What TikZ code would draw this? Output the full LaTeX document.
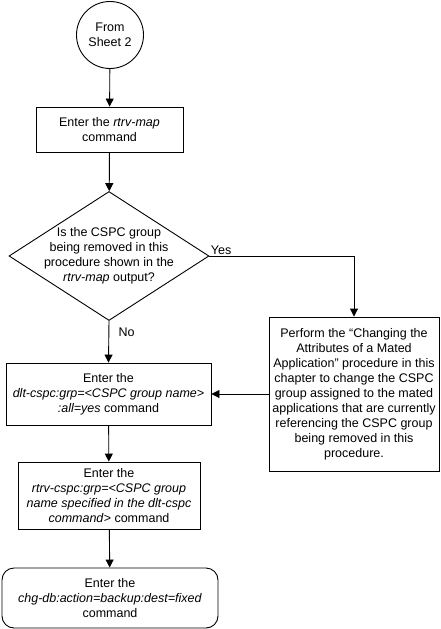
\documentclass[tikz,border=0pt]{standalone}
\usepackage{fontspec}
\setmainfont{Liberation Sans}
\usetikzlibrary{arrows.meta,positioning,shapes.geometric}

\tikzset{
  stepbox/.style={draw, rectangle, align=center, inner sep=0pt},
  flowline/.style={-{Triangle[length=8pt,width=8pt]}},
}

\begin{document}
\begin{tikzpicture}[x=1pt, y=-1pt, line width=0.9pt, font=\fontsize{12.5}{15}\selectfont]
\useasboundingbox (0,0) rectangle (441,629);

% Connector from sheet 2
\node[draw, circle, minimum size=67pt, inner sep=0pt, align=center] (fromsheet) at (110,35) {From\\Sheet 2};

% Main column
\node[stepbox, minimum width=147pt, minimum height=45pt] (rtrvmap) at (109.5,129.5) {Enter the \textit{rtrv-map}\\command};
\node[draw, diamond, aspect=1.55, inner sep=-5pt, minimum width=200pt, minimum height=129pt, align=center] (shown) at (109,256)
  {Is the CSPC group\\being removed in this\\procedure shown in the\\\textit{rtrv-map} output?};
\node[stepbox, minimum width=205pt, minimum height=62pt] (dltcspc) at (108.5,394)
  {Enter the\\\textit{dlt-cspc:grp=<CSPC group name>}\\\textit{:all=yes} command};
\node[stepbox, minimum width=182pt, minimum height=67pt] (rtrvcspc) at (109,495.5)
  {Enter the\\\textit{rtrv-cspc:grp=<CSPC group}\\\textit{name specified in the dlt-cspc}\\\textit{command}> command};
\node[stepbox, rounded corners=12pt, minimum width=216pt, minimum height=60pt] (chgdb) at (110,598)
  {Enter the\\\textit{chg-db:action=backup:dest=fixed}\\command};

% Side branch
\node[stepbox, minimum width=170pt, minimum height=154pt] (mated) at (354,394)
  {Perform the “Changing the\\Attributes of a Mated\\Application” procedure in this\\chapter to change the CSPC\\group assigned to the mated\\applications that are currently\\referencing the CSPC group\\being removed in this\\procedure.};

% Flow
\draw[flowline] (fromsheet) -- (rtrvmap);
\draw[flowline] (rtrvmap) -- (shown);
\draw[flowline] (shown.east) node[anchor=south west, inner sep=1pt] {Yes} -| (mated.north);
\draw[flowline] (shown.south) -- node[right, pos=0.26, xshift=6pt] {No} (dltcspc.north);
\draw[flowline] (mated.west) -- (dltcspc.east);
\draw[flowline] (dltcspc) -- (rtrvcspc);
\draw[flowline] (rtrvcspc) -- (chgdb);

\end{tikzpicture}
\end{document}
